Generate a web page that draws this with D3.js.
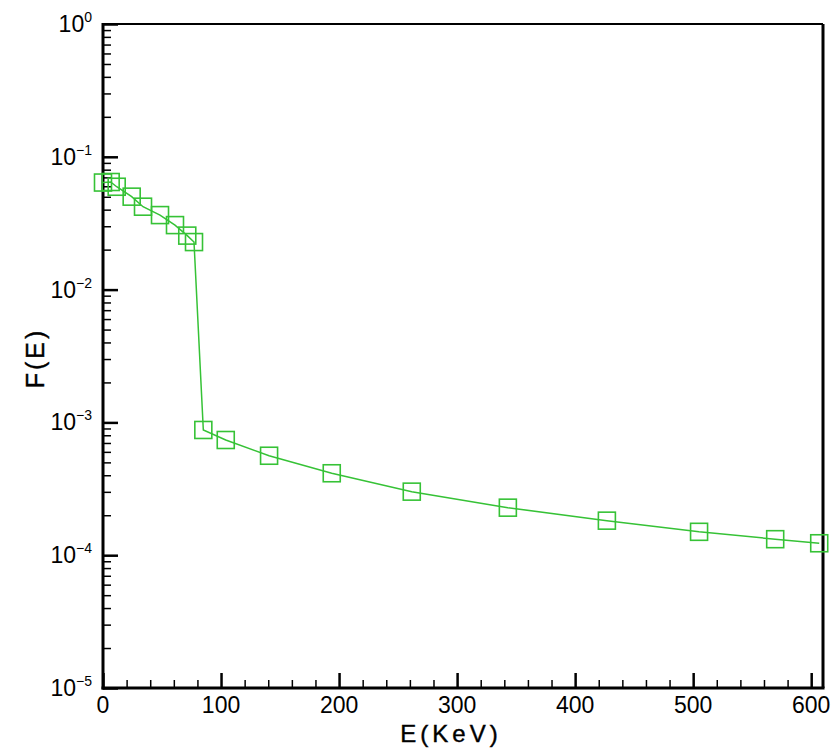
<!DOCTYPE html>
<html>
<head>
<meta charset="utf-8">
<script src="https://cdn.jsdelivr.net/npm/d3@7"></script>
<style>
  body { margin: 0; background: #fff; }
  svg { display: block; }
  text { font-family: "Liberation Sans", Arial, sans-serif; fill: #000; }
</style>
</head>
<body>
<div id="chart"></div>
<script>
// Spectrum F(E) vs energy
const energy = [0, 6.5, 11.6, 24.3, 33.9, 48.3, 61, 71.4, 77.1,
                85, 104, 140.7, 193.8, 261.6, 343, 426.9, 505, 569.5, 606.8];
const flux = [0.0640, 0.0646, 0.0595, 0.0501, 0.0421, 0.0364, 0.0306, 0.0255, 0.0228,
              8.77e-4, 7.37e-4, 5.61e-4, 4.14e-4, 3.01e-4, 2.28e-4, 1.82e-4, 1.50e-4, 1.32e-4, 1.23e-4];

const xMajor = [0, 100, 200, 300, 400, 500, 600];
const yExponents = [0, -1, -2, -3, -4, -5];

const width = 836, height = 751;
const margin = { left: 103, top: 24, right: 13, bottom: 63 };
const green = "#36c236";

const svg = d3.select("#chart").append("svg")
    .attr("width", width)
    .attr("height", height);

const x = d3.scaleLinear().domain([0, 610]).range([margin.left, width - margin.right]);
const y = d3.scaleLog().domain([1e-5, 1]).range([height - margin.bottom, margin.top]);

const points = energy.map((e, i) => ({ e: e, f: flux[i] }));

// minor ticks
const xMinor = d3.range(0, 611, 20).filter(v => v % 100 !== 0);
const yMinor = [];
yExponents.slice(1).forEach(k => {
    for (let m = 2; m <= 9; m++) yMinor.push(m * Math.pow(10, k));
});
const yMajor = yExponents.map(k => Math.pow(10, k));

const bottomY = y.range()[0];
const leftX = x.range()[0];

function styleAxis(g, w) {
    g.selectAll(".tick text").remove();
    g.selectAll(".tick line").attr("stroke", "#000").attr("stroke-width", w);
    g.select(".domain").remove();
}

svg.append("g")
    .attr("transform", `translate(0,${bottomY})`)
    .call(d3.axisBottom(x).tickValues(xMinor).tickSize(-8))
    .call(g => styleAxis(g, 1.5));
svg.append("g")
    .attr("transform", `translate(0,${bottomY})`)
    .call(d3.axisBottom(x).tickValues(xMajor).tickSize(-15))
    .call(g => styleAxis(g, 2.5));
svg.append("g")
    .attr("transform", `translate(${leftX},0)`)
    .call(d3.axisLeft(y).tickValues(yMinor).tickSize(-8))
    .call(g => styleAxis(g, 1.5));
svg.append("g")
    .attr("transform", `translate(${leftX},0)`)
    .call(d3.axisLeft(y).tickValues(yMajor).tickSize(-15))
    .call(g => styleAxis(g, 2.5));

// frame
const x0 = x.range()[0], x1 = x.range()[1];
const y0 = y.range()[1], y1 = y.range()[0];
svg.append("line").attr("x1", x0).attr("x2", x1).attr("y1", y0).attr("y2", y0)
    .attr("stroke", "#000").attr("stroke-width", 2);
svg.append("line").attr("x1", x1).attr("x2", x1).attr("y1", y0).attr("y2", y1)
    .attr("stroke", "#000").attr("stroke-width", 3);
svg.append("line").attr("x1", x0).attr("x2", x0).attr("y1", y0 - 1).attr("y2", y1 + 1.5)
    .attr("stroke", "#000").attr("stroke-width", 3);
svg.append("line").attr("x1", x0 - 1.5).attr("x2", x1 + 1.5).attr("y1", y1).attr("y2", y1)
    .attr("stroke", "#000").attr("stroke-width", 3);

// x tick labels
svg.append("g").selectAll("text")
    .data(xMajor)
    .join("text")
    .attr("x", d => x(d))
    .attr("y", bottomY + 25)
    .attr("text-anchor", "middle")
    .attr("font-size", 23)
    .attr("fill", "#222")
    .text(d => d);

// y tick labels with superscript exponents
const yLab = svg.append("g").selectAll("text")
    .data(yExponents)
    .join("text")
    .attr("x", 92)
    .attr("y", d => y(Math.pow(10, d)) + 8)
    .attr("text-anchor", "end")
    .attr("font-size", 23)
    .attr("fill", "#222");
yLab.append("tspan").text("10");
yLab.append("tspan")
    .attr("font-size", 14)
    .attr("dy", -10)
    .text(d => d === 0 ? "0" : "\u2212" + Math.abs(d));

// axis titles
svg.append("text")
    .attr("x", 451)
    .attr("y", 742)
    .attr("text-anchor", "middle")
    .attr("font-size", 24)
    .attr("letter-spacing", 4)
    .attr("stroke", "#000")
    .attr("stroke-width", 0.4)
    .text("E(KeV)");

svg.append("text")
    .attr("transform", "translate(44,358) rotate(-90)")
    .attr("text-anchor", "middle")
    .attr("font-size", 25)
    .attr("letter-spacing", 3)
    .attr("stroke", "#000")
    .attr("stroke-width", 0.4)
    .text("F(E)");

// series
const line = d3.line().x(d => x(d.e)).y(d => y(d.f));
svg.append("path")
    .datum(points)
    .attr("d", line)
    .attr("fill", "none")
    .attr("stroke", green)
    .attr("stroke-width", 1.5);

const s = 17;
svg.append("g").selectAll("rect")
    .data(points)
    .join("rect")
    .attr("x", d => x(d.e) - s / 2)
    .attr("y", d => y(d.f) - s / 2)
    .attr("width", s)
    .attr("height", s)
    .attr("fill", "none")
    .attr("stroke", green)
    .attr("stroke-width", 1.6);
</script>
</body>
</html>
